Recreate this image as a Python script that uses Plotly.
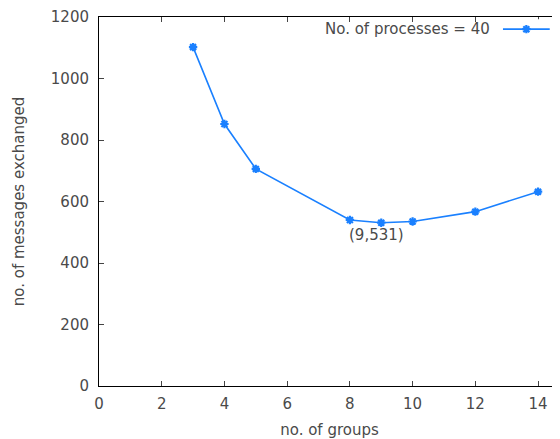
import plotly.graph_objects as go

groups = [3, 4, 5, 8, 9, 10, 12, 14]
messages = [1102, 852, 706, 540, 531, 535, 567, 632]
series_name = "No. of processes = 40"
x_ticks = [0, 2, 4, 6, 8, 10, 12, 14]
y_ticks = [0, 200, 400, 600, 800, 1000, 1200]

LINE = "#1a80ff"
FONT = dict(family="DejaVu Sans", size=15, color="#4a4a4a")

fig = go.Figure()
fig.add_trace(go.Scatter(
    x=groups, y=messages, mode="lines+markers", name=series_name,
    line=dict(color=LINE, width=1.6),
    marker=dict(symbol="asterisk-open", size=7, line=dict(color=LINE, width=2.2), color=LINE),
    showlegend=False,
))
# legend sample line (gnuplot style: text left of sample)
fig.add_trace(go.Scatter(
    x=[0, 1], y=[0.5, 0.5], xaxis="x2", yaxis="y2", mode="lines",
    line=dict(color=LINE, width=1.6), showlegend=False, hoverinfo="skip",
))
fig.add_trace(go.Scatter(
    x=[0.5], y=[0.5], xaxis="x2", yaxis="y2", mode="markers",
    marker=dict(symbol="asterisk-open", size=7, line=dict(color=LINE, width=2.2), color=LINE),
    showlegend=False, hoverinfo="skip",
))

fig.update_layout(
    width=552, height=431,
    margin=dict(l=91, r=0, t=9, b=53),
    paper_bgcolor="white", plot_bgcolor="white",
    font=FONT,
    xaxis=dict(range=[0, 14.70], tickvals=x_ticks, ticks="inside", ticklen=5,
               showline=True, linecolor="black", linewidth=1, mirror="ticks",
               showgrid=False, zeroline=False, automargin=False, ticklabelstandoff=4,
               title=dict(text="no. of groups", font=FONT, standoff=12)),
    yaxis=dict(range=[0, 1200], tickvals=y_ticks, ticks="inside", ticklen=5,
               showline=True, linecolor="black", linewidth=1, mirror=False,
               showgrid=False, zeroline=False, automargin=False, ticklabelstandoff=6,
               title=dict(text="no. of messages exchanged", font=FONT, standoff=22)),
    xaxis2=dict(domain=[0.876, 0.978], range=[0, 1], visible=False, anchor="y2"),
    yaxis2=dict(domain=[0.94, 0.994], range=[0, 1], visible=False, anchor="x2"),
    annotations=[
        dict(x=9, y=531, xref="x", yref="y", text="(9,531)", showarrow=False,
             xanchor="center", yanchor="top", xshift=-5, yshift=-1, font=FONT),
        dict(x=0.852, y=0.967, xref="paper", yref="paper", text=series_name, showarrow=False,
             xanchor="right", yanchor="middle", font=FONT),
    ],
)
fig.write_html("out.html")
